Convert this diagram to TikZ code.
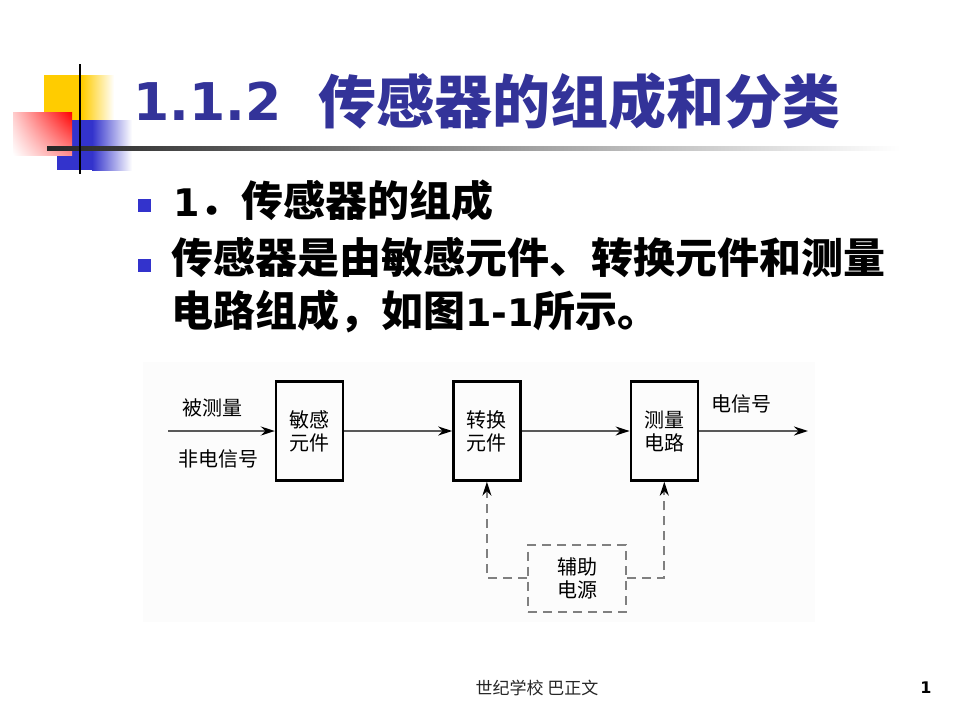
\documentclass[tikz,border=0pt]{standalone}
\usepackage{fontspec}
\setmainfont{Noto Sans CJK SC}
\newfontfamily\lat{DejaVu Sans}
\usepackage{tikz}
\usetikzlibrary{positioning,arrows.meta,shadings}
\definecolor{titleblue}{RGB}{51,51,153}
\definecolor{bulletblue}{RGB}{51,51,204}
\definecolor{decoyellow}{RGB}{255,204,0}
\definecolor{decored}{RGB}{255,0,0}
\newcommand{\dgmfont}{\fontsize{20}{23}\selectfont}
\tikzset{
  block/.style={draw, line width=2.4pt, minimum width=67pt, minimum height=99pt, inner sep=0pt, align=center, font=\dgmfont},
  auxblock/.style={draw=gray, line width=2pt, dash pattern=on 9pt off 6pt, minimum width=98pt, minimum height=67pt, inner sep=0pt, align=center, font=\dgmfont},
  sig/.style={draw=black!65, line width=1.8pt, -{Stealth[length=14pt,width=9pt,black]}},
  auxline/.style={draw=gray, line width=2pt, dash pattern=on 9pt off 6pt, -{Stealth[length=14pt,width=9pt,black]}},
  lbl/.style={font=\dgmfont},
  bullet/.style={fill=bulletblue, minimum size=13pt, inner sep=0pt},
  btext/.style={anchor=west, align=left, inner sep=0pt, font=\bfseries\fontsize{42}{53}\selectfont},
}
\begin{document}
\begin{tikzpicture}[x=1pt,y=-1pt]
\useasboundingbox[fill=white] (0,0) rectangle (960,720);
% header decoration
\fill[decoyellow] (44,75) rectangle (82,120);
\shade[left color=decoyellow, right color=white] (82,75) rectangle (114,120);
\fill[bulletblue] (57,120) rectangle (92,170);
\shade[left color=bulletblue, right color=white] (92,120) rectangle (132,170);
\shade[upper right=decored, upper left=red!20, lower right=red!45, lower left=white] (13,112) rectangle (72,155);
\shade[left color=black!85, middle color=black!25, right color=white] (47,146.5) rectangle (900,150);
\draw[line width=2.5pt] (80,64) -- (80,174);
% title
\node (num) [anchor=west, inner sep=0pt, text=titleblue, font=\lat\bfseries\fontsize{52}{60}\selectfont] at (133,101) {1.1.2};
\node (title) [anchor=west, inner sep=0pt, text=titleblue, font=\bfseries\fontsize{58}{64}\selectfont] at (318,101) {传感器的组成和分类};
% bullets
\node (b1) [bullet] at (144,205.5) {};
\node (t1) [btext] at (173,200.5) {{\lat\fontsize{38}{53}\selectfont 1}．传感器的组成};
\node (b2) [bullet] at (144,265.5) {};
\node (t2) [btext] at (171,285.5) {传感器是由敏感元件、转换元件和测量\\电路组成，如图{\lat\fontsize{38}{53}\selectfont 1-1}所示。};
% figure 1-1
\fill[black!1] (143,362) rectangle (815,622);
\node (sens) [block] at (309.5,431) {敏感\\元件};
\node (conv) [block, right=108pt of sens] {转换\\元件};
\node (meas) [block, right=108pt of conv] {测量\\电路};
\node (aux) [auxblock] at (577,578) {辅助\\电源};
\coordinate (in) at (168,431);
\coordinate (out) at (808,431);
\node (qty) [lbl] at (212,408) {被测量};
\node (nonel) [lbl] at (218,459) {非电信号};
\node (elsig) [lbl] at (741,404) {电信号};
\draw[sig] (in) -- (sens.west);
\draw[sig] (sens.east) -- (conv.west);
\draw[sig] (conv.east) -- (meas.west);
\draw[sig] (meas.east) -- (out);
\draw[auxline] (aux.west) -| (conv.south);
\draw[auxline] (aux.east) -| (meas.south);
% footer
\node (foot) [font=\fontsize{17}{20}\selectfont, text=black!85] at (537,688) {世纪学校 巴正文};
\node (page) [font=\lat\bfseries\fontsize{16}{20}\selectfont] at (926,688) {1};
\end{tikzpicture}
\end{document}
